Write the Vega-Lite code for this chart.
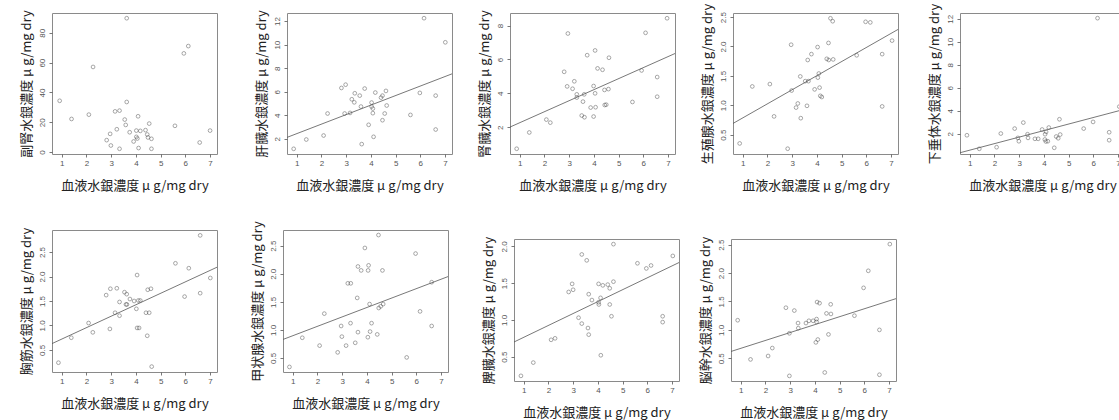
{
  "$schema": "https://vega.github.io/schema/vega-lite/v6.json",
  "padding": {"top": 2, "left": 19, "right": 0, "bottom": 0},
  "background": "white",
  "config": {
    "view": {"stroke": "#8a8a8a", "strokeWidth": 1},
    "axis": {"domain": false, "grid": false, "tickColor": "#555", "tickSize": 3, "tickWidth": 0.8,
      "labelFont": "Liberation Sans", "labelFontSize": 8, "labelColor": "#555",
      "titleFont": "Noto Sans CJK JP", "titleFontSize": 13, "titleFontWeight": "normal", "titleColor": "#222"},
    "axisX": {"labelPadding": 2, "titlePadding": 12},
    "axisY": {"labelAngle": -90, "labelPadding": 3, "titlePadding": 5},
    "point": {"shape": "circle", "filled": false, "size": 14, "strokeWidth": 0.6, "color": "#333"},
    "line": {"color": "#555", "strokeWidth": 0.8}
  },
  "datasets": {
    "p1": [{"x":0.92,"y":34.4},{"x":1.40,"y":22.2},{"x":2.10,"y":25.1},{"x":2.27,"y":57.1},{"x":2.82,"y":8},{"x":2.96,"y":12.2},{"x":2.99,"y":4.4},{"x":3.16,"y":27.3},{"x":3.23,"y":15.3},{"x":3.34,"y":27.8},{"x":3.34,"y":2.2},{"x":3.55,"y":21.8},{"x":3.59,"y":18.2},{"x":3.63,"y":89.8},{"x":3.63,"y":33.6},{"x":3.75,"y":13.3},{"x":3.91,"y":7.1},{"x":4.02,"y":10.2},{"x":4.02,"y":14.4},{"x":4.06,"y":9.1},{"x":4.09,"y":24},{"x":4.11,"y":2.7},{"x":4.18,"y":14.2},{"x":4.39,"y":14.7},{"x":4.46,"y":11.8},{"x":4.49,"y":9.8},{"x":4.54,"y":19.1},{"x":4.63,"y":8.9},{"x":4.63,"y":2.2},{"x":5.58,"y":17.6},{"x":5.94,"y":66.2},{"x":6.12,"y":71.1},{"x":6.58,"y":6.4},{"x":7.0,"y":14.4}],
    "p2": [{"x":0.88,"y":1.15},{"x":1.39,"y":1.94},{"x":2.09,"y":2.28},{"x":2.25,"y":4.15},{"x":2.81,"y":6.32},{"x":2.98,"y":6.6},{"x":2.94,"y":4.15},{"x":3.16,"y":4.2},{"x":3.23,"y":5.36},{"x":3.33,"y":5.1},{"x":3.35,"y":5.87},{"x":3.55,"y":5.67},{"x":3.60,"y":4.74},{"x":3.63,"y":1.55},{"x":3.75,"y":6.27},{"x":3.91,"y":3.19},{"x":4.03,"y":5.08},{"x":4.03,"y":4.74},{"x":4.08,"y":4.57},{"x":4.08,"y":4.18},{"x":4.11,"y":2.17},{"x":4.18,"y":5.93},{"x":4.41,"y":5.5},{"x":4.47,"y":5.67},{"x":4.47,"y":3.58},{"x":4.56,"y":4.15},{"x":4.61,"y":6.07},{"x":4.64,"y":4.83},{"x":5.60,"y":4.03},{"x":5.98,"y":5.9},{"x":6.15,"y":12.25},{"x":6.62,"y":5.67},{"x":6.62,"y":2.79},{"x":7.01,"y":10.2}],
    "p3": [{"x":0.88,"y":0.73},{"x":1.39,"y":1.69},{"x":2.08,"y":2.45},{"x":2.24,"y":2.27},{"x":2.80,"y":5.27},{"x":2.95,"y":7.53},{"x":2.92,"y":4.41},{"x":3.14,"y":4.27},{"x":3.21,"y":4.71},{"x":3.31,"y":3.94},{"x":3.31,"y":3.75},{"x":3.51,"y":2.69},{"x":3.56,"y":3.51},{"x":3.61,"y":3.94},{"x":3.62,"y":2.59},{"x":3.73,"y":6.25},{"x":3.87,"y":3.16},{"x":3.99,"y":2.63},{"x":3.99,"y":4.43},{"x":4.05,"y":4.0},{"x":4.05,"y":6.53},{"x":4.07,"y":3.18},{"x":4.15,"y":5.47},{"x":4.35,"y":5.39},{"x":4.43,"y":4.2},{"x":4.44,"y":3.31},{"x":4.50,"y":3.33},{"x":4.59,"y":4.25},{"x":4.61,"y":6.1},{"x":5.56,"y":3.49},{"x":5.93,"y":5.35},{"x":6.09,"y":7.57},{"x":6.56,"y":4.96},{"x":6.56,"y":3.8},{"x":6.96,"y":8.43}],
    "p4": [{"x":0.88,"y":0.35},{"x":1.39,"y":1.32},{"x":2.10,"y":1.36},{"x":2.27,"y":0.81},{"x":2.82,"y":0.26},{"x":2.96,"y":2.03},{"x":2.98,"y":1.25},{"x":3.16,"y":0.96},{"x":3.23,"y":1.03},{"x":3.33,"y":1.49},{"x":3.35,"y":0.78},{"x":3.53,"y":1.41},{"x":3.60,"y":0.99},{"x":3.63,"y":1.77},{"x":3.66,"y":1.41},{"x":3.78,"y":1.87},{"x":3.91,"y":1.27},{"x":4.03,"y":1.99},{"x":4.04,"y":1.47},{"x":4.08,"y":1.54},{"x":4.11,"y":1.30},{"x":4.14,"y":1.16},{"x":4.20,"y":1.14},{"x":4.40,"y":1.79},{"x":4.47,"y":2.06},{"x":4.48,"y":1.77},{"x":4.55,"y":2.48},{"x":4.64,"y":2.43},{"x":4.66,"y":1.78},{"x":5.61,"y":1.85},{"x":5.97,"y":2.42},{"x":6.16,"y":2.41},{"x":6.64,"y":1.87},{"x":6.64,"y":0.98},{"x":7.04,"y":2.10}],
    "p5": [{"x":0.89,"y":1.88},{"x":1.39,"y":0.70},{"x":2.09,"y":0.84},{"x":2.26,"y":2.03},{"x":2.82,"y":2.46},{"x":2.95,"y":1.65},{"x":2.99,"y":1.36},{"x":3.17,"y":2.98},{"x":3.34,"y":1.97},{"x":3.36,"y":1.65},{"x":3.64,"y":1.57},{"x":3.77,"y":1.57},{"x":3.93,"y":2.38},{"x":4.04,"y":1.51},{"x":4.05,"y":1.97},{"x":4.08,"y":1.34},{"x":4.09,"y":2.17},{"x":4.16,"y":1.36},{"x":4.20,"y":2.55},{"x":4.42,"y":0.79},{"x":4.50,"y":1.77},{"x":4.58,"y":1.62},{"x":4.66,"y":1.94},{"x":4.63,"y":3.27},{"x":5.61,"y":2.46},{"x":5.99,"y":3.04},{"x":6.17,"y":12.06},{"x":6.64,"y":2.14},{"x":6.64,"y":1.45},{"x":7.05,"y":4.37}],
    "p6": [{"x":0.87,"y":0.24},{"x":1.39,"y":0.75},{"x":2.09,"y":1.05},{"x":2.26,"y":0.86},{"x":2.80,"y":1.62},{"x":2.95,"y":0.93},{"x":2.97,"y":1.75},{"x":3.16,"y":1.26},{"x":3.23,"y":1.76},{"x":3.34,"y":1.48},{"x":3.34,"y":1.20},{"x":3.54,"y":1.68},{"x":3.60,"y":1.43},{"x":3.63,"y":1.64},{"x":3.64,"y":1.43},{"x":3.76,"y":1.54},{"x":3.93,"y":1.50},{"x":4.02,"y":1.34},{"x":4.05,"y":2.03},{"x":4.05,"y":0.95},{"x":4.10,"y":1.51},{"x":4.13,"y":0.95},{"x":4.18,"y":1.51},{"x":4.41,"y":1.26},{"x":4.46,"y":0.79},{"x":4.48,"y":1.73},{"x":4.54,"y":1.26},{"x":4.61,"y":1.75},{"x":4.64,"y":0.16},{"x":5.60,"y":2.27},{"x":5.97,"y":1.59},{"x":6.14,"y":2.17},{"x":6.60,"y":2.84},{"x":6.60,"y":1.66},{"x":7.01,"y":1.97}],
    "p7": [{"x":0.87,"y":0.34},{"x":1.39,"y":0.86},{"x":2.09,"y":0.72},{"x":2.28,"y":1.29},{"x":2.82,"y":0.60},{"x":2.96,"y":1.07},{"x":2.99,"y":0.88},{"x":3.16,"y":0.72},{"x":3.23,"y":1.83},{"x":3.34,"y":1.12},{"x":3.35,"y":1.83},{"x":3.53,"y":0.77},{"x":3.61,"y":1.57},{"x":3.64,"y":2.13},{"x":3.64,"y":0.96},{"x":3.77,"y":2.06},{"x":3.92,"y":2.46},{"x":4.04,"y":0.87},{"x":4.05,"y":2.06},{"x":4.07,"y":2.15},{"x":4.11,"y":1.46},{"x":4.13,"y":0.97},{"x":4.19,"y":1.12},{"x":4.42,"y":0.92},{"x":4.47,"y":2.69},{"x":4.48,"y":1.39},{"x":4.56,"y":1.42},{"x":4.63,"y":2.06},{"x":4.66,"y":1.46},{"x":5.61,"y":0.51},{"x":5.97,"y":2.36},{"x":6.15,"y":1.33},{"x":6.62,"y":1.85},{"x":6.62,"y":1.07}],
    "p8": [{"x":0.89,"y":0.24},{"x":1.39,"y":0.42},{"x":2.11,"y":0.73},{"x":2.27,"y":0.75},{"x":2.82,"y":1.38},{"x":2.96,"y":1.49},{"x":3.00,"y":1.41},{"x":3.22,"y":1.03},{"x":3.35,"y":1.89},{"x":3.35,"y":0.95},{"x":3.55,"y":1.81},{"x":3.60,"y":0.89},{"x":3.63,"y":1.35},{"x":3.63,"y":0.80},{"x":3.76,"y":1.27},{"x":4.03,"y":1.49},{"x":4.03,"y":1.24},{"x":4.04,"y":1.21},{"x":4.11,"y":1.30},{"x":4.12,"y":0.52},{"x":4.20,"y":1.47},{"x":4.40,"y":1.48},{"x":4.48,"y":1.43},{"x":4.48,"y":1.21},{"x":4.55,"y":1.05},{"x":4.63,"y":2.03},{"x":4.63,"y":1.52},{"x":5.60,"y":1.77},{"x":5.96,"y":1.70},{"x":6.15,"y":1.74},{"x":6.62,"y":1.05},{"x":6.62,"y":0.97},{"x":7.03,"y":1.87}],
    "p9": [{"x":0.88,"y":1.17},{"x":1.40,"y":0.48},{"x":2.11,"y":0.54},{"x":2.28,"y":0.68},{"x":2.83,"y":1.39},{"x":2.97,"y":0.19},{"x":2.97,"y":0.94},{"x":3.17,"y":1.34},{"x":3.32,"y":1.12},{"x":3.33,"y":1.03},{"x":3.64,"y":1.12},{"x":3.76,"y":1.16},{"x":3.93,"y":1.16},{"x":4.04,"y":0.78},{"x":4.07,"y":1.14},{"x":4.07,"y":1.19},{"x":4.09,"y":1.49},{"x":4.12,"y":0.83},{"x":4.19,"y":1.47},{"x":4.40,"y":0.25},{"x":4.47,"y":1.29},{"x":4.55,"y":0.92},{"x":4.64,"y":1.45},{"x":4.65,"y":1.28},{"x":5.60,"y":1.25},{"x":5.97,"y":1.74},{"x":6.16,"y":2.04},{"x":6.61,"y":1.00},{"x":6.61,"y":0.21},{"x":7.03,"y":2.51}],
    "l2": [{"x":0.61,"y":2.12},{"x":7.28,"y":7.52}],
    "l3": [{"x":0.61,"y":2.01},{"x":7.28,"y":6.35}],
    "l4": [{"x":0.61,"y":0.69},{"x":7.28,"y":2.29}],
    "l5": [{"x":0.61,"y":0.36},{"x":7.28,"y":4.15}],
    "l6": [{"x":0.61,"y":0.63},{"x":7.28,"y":2.19}],
    "l7": [{"x":0.61,"y":0.83},{"x":7.28,"y":1.95}],
    "l8": [{"x":0.61,"y":0.70},{"x":7.28,"y":1.78}],
    "l9": [{"x":0.61,"y":0.62},{"x":7.28,"y":1.55}],
    "empty": []
  },
  "spacing": 27,
  "vconcat": [
    {
      "spacing": 36,
      "hconcat": [
        {
          "width": 165, "height": 141,
          "encoding": {
            "x": {"field": "x", "type": "quantitative", "scale": {"domain": [0.61, 7.28], "nice": false, "zero": false}, "axis": {"values": [1,2,3,4,5,6,7], "title": "血液水銀濃度 μ g/mg dry"}},
            "y": {"field": "y", "type": "quantitative", "scale": {"domain": [-1.3, 93.3], "nice": false, "zero": false}, "axis": {"values": [0,20,40,60,80], "format": "d", "title": "副腎水銀濃度 μ g/mg dry"}}
          },
          "layer": [{"data": {"name": "p1"}, "mark": "point"}]
        },
        {
          "spacing": 28,
          "hconcat": [
            {
              "spacing": 24,
              "hconcat": [
                {
                  "width": 165, "height": 141,
                  "encoding": {
                    "x": {"field": "x", "type": "quantitative", "scale": {"domain": [0.61, 7.28], "nice": false, "zero": false}, "axis": {"values": [1,2,3,4,5,6,7], "title": "血液水銀濃度 μ g/mg dry"}},
                    "y": {"field": "y", "type": "quantitative", "scale": {"domain": [0.71, 12.69], "nice": false, "zero": false}, "axis": {"values": [2,4,6,8,10,12], "format": "d", "title": "肝臓水銀濃度 μ g/mg dry"}}
                  },
                  "layer": [{"data": {"name": "p2"}, "mark": "point"}, {"data": {"name": "l2"}, "mark": {"type": "line", "clip": true}}]
                },
                {
                  "width": 165, "height": 141,
                  "encoding": {
                    "x": {"field": "x", "type": "quantitative", "scale": {"domain": [0.61, 7.28], "nice": false, "zero": false}, "axis": {"values": [1,2,3,4,5,6,7], "title": "血液水銀濃度 μ g/mg dry"}},
                    "y": {"field": "y", "type": "quantitative", "scale": {"domain": [0.42, 8.74], "nice": false, "zero": false}, "axis": {"values": [2,4,6,8], "format": "d", "title": "腎臓水銀濃度 μ g/mg dry"}}
                  },
                  "layer": [{"data": {"name": "p3"}, "mark": "point"}, {"data": {"name": "l3"}, "mark": {"type": "line", "clip": true}}]
                },
                {
                  "width": 165, "height": 141,
                  "encoding": {
                    "x": {"field": "x", "type": "quantitative", "scale": {"domain": [0.61, 7.28], "nice": false, "zero": false}, "axis": {"values": [1,2,3,4,5,6,7], "title": "血液水銀濃度 μ g/mg dry"}},
                    "y": {"field": "y", "type": "quantitative", "scale": {"domain": [0.17, 2.57], "nice": false, "zero": false}, "axis": {"values": [0.5,1,1.5,2,2.5], "format": ".1f", "title": "生殖腺水銀濃度 μ g/mg dry"}}
                  },
                  "layer": [{"data": {"name": "p4"}, "mark": "point"}, {"data": {"name": "l4"}, "mark": {"type": "line", "clip": true}}]
                }
              ]
            },
            {
              "width": 165, "height": 141,
              "encoding": {
                "x": {"field": "x", "type": "quantitative", "scale": {"domain": [0.61, 7.28], "nice": false, "zero": false}, "axis": {"values": [1,2,3,4,5,6,7], "title": "血液水銀濃度 μ g/mg dry"}},
                "y": {"field": "y", "type": "quantitative", "scale": {"domain": [0.25, 12.51], "nice": false, "zero": false}, "axis": {"values": [2,4,6,8,10,12], "format": "d", "title": "下垂体水銀濃度 μ g/mg dry"}}
              },
              "layer": [{"data": {"name": "p5"}, "mark": "point"}, {"data": {"name": "l5"}, "mark": {"type": "line", "clip": true}}]
            }
          ]
        }
      ]
    },
    {
      "spacing": 32,
      "hconcat": [
        {
          "width": 165, "height": 142,
          "encoding": {
            "x": {"field": "x", "type": "quantitative", "scale": {"domain": [0.61, 7.28], "nice": false, "zero": false}, "axis": {"values": [1,2,3,4,5,6,7], "title": "血液水銀濃度 μ g/mg dry"}},
            "y": {"field": "y", "type": "quantitative", "scale": {"domain": [0.05, 2.95], "nice": false, "zero": false}, "axis": {"values": [0.5,1,1.5,2,2.5], "format": ".1f", "title": "胸筋水銀濃度 μ g/mg dry"}}
          },
          "layer": [{"data": {"name": "p6"}, "mark": "point"}, {"data": {"name": "l6"}, "mark": {"type": "line", "clip": true}}]
        },
        {
          "width": 165, "height": 142,
          "encoding": {
            "x": {"field": "x", "type": "quantitative", "scale": {"domain": [0.61, 7.28], "nice": false, "zero": false}, "axis": {"values": [1,2,3,4,5,6,7], "title": "血液水銀濃度 μ g/mg dry"}},
            "y": {"field": "y", "type": "quantitative", "scale": {"domain": [0.25, 2.78], "nice": false, "zero": false}, "axis": {"values": [0.5,1,1.5,2,2.5], "format": ".1f", "title": "甲状腺水銀濃度 μ g/mg dry"}}
          },
          "layer": [{"data": {"name": "p7"}, "mark": "point"}, {"data": {"name": "l7"}, "mark": {"type": "line", "clip": true}}]
        },
        {
          "spacing": 4,
          "vconcat": [
            {
              "width": 1, "height": 1,
              "view": {"stroke": null},
              "data": {"name": "empty"},
              "mark": "point",
              "encoding": {}
            },
            {
              "spacing": 18,
              "hconcat": [
                {
                  "width": 165, "height": 142,
                  "encoding": {
                    "x": {"field": "x", "type": "quantitative", "scale": {"domain": [0.61, 7.28], "nice": false, "zero": false}, "axis": {"values": [1,2,3,4,5,6,7], "title": "血液水銀濃度 μ g/mg dry"}},
                    "y": {"field": "y", "type": "quantitative", "scale": {"domain": [0.17, 2.10], "nice": false, "zero": false}, "axis": {"values": [0.5,1,1.5,2], "format": ".1f", "title": "脾臓水銀濃度 μ g/mg dry"}}
                  },
                  "layer": [{"data": {"name": "p8"}, "mark": "point"}, {"data": {"name": "l8"}, "mark": {"type": "line", "clip": true}}]
                },
                {
                  "width": 165, "height": 142,
                  "encoding": {
                    "x": {"field": "x", "type": "quantitative", "scale": {"domain": [0.61, 7.28], "nice": false, "zero": false}, "axis": {"values": [1,2,3,4,5,6,7], "title": "血液水銀濃度 μ g/mg dry"}},
                    "y": {"field": "y", "type": "quantitative", "scale": {"domain": [0.10, 2.60], "nice": false, "zero": false}, "axis": {"values": [0.5,1,1.5,2,2.5], "format": ".1f", "title": "脳幹水銀濃度 μ g/mg dry"}}
                  },
                  "layer": [{"data": {"name": "p9"}, "mark": "point"}, {"data": {"name": "l9"}, "mark": {"type": "line", "clip": true}}]
                }
              ]
            }
          ]
        }
      ]
    }
  ]
}
